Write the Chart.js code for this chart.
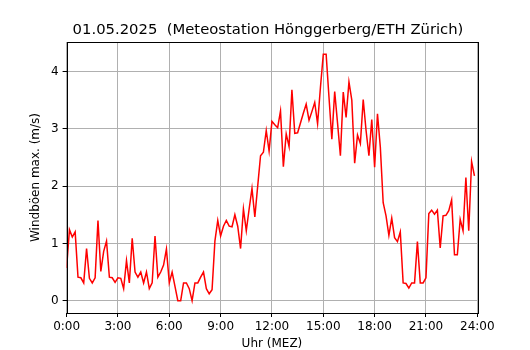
<!DOCTYPE html>
<html>
<head>
<meta charset="utf-8">
<script src="https://cdn.jsdelivr.net/npm/chart.js@4.4.1/dist/chart.umd.min.js"></script>
<style>
  html, body { margin: 0; padding: 0; background: #fff; }
  #wrap { width: 530px; height: 350px; }
</style>
</head>
<body>
<div id="wrap"><canvas id="chartGusts" width="530" height="350"></canvas></div>
<script>
// Windböen max. (m/s), 10-Minuten-Werte ab 0:00
const gusts = [
  0.57, 1.24, 1.11, 1.20, 0.41, 0.40, 0.31, 0.91, 0.39, 0.31, 0.40, 1.40,
  0.51, 0.86, 1.04, 0.41, 0.40, 0.32, 0.40, 0.39, 0.21, 0.70, 0.31, 1.09,
  0.50, 0.41, 0.50, 0.31, 0.50, 0.21, 0.31, 1.13, 0.41, 0.50, 0.62, 0.90,
  0.31, 0.50, 0.25, 0.00, 0.00, 0.31, 0.31, 0.21, 0.00, 0.31, 0.31, 0.41,
  0.50, 0.21, 0.12, 0.19, 1.04, 1.40, 1.13, 1.30, 1.40, 1.30, 1.29, 1.50,
  1.30, 0.91, 1.60, 1.22, 1.60, 1.96, 1.46, 2.00, 2.53, 2.59, 2.97, 2.61,
  3.13, 3.07, 3.02, 3.31, 2.34, 2.91, 2.69, 3.68, 2.92, 2.93, 3.10, 3.27,
  3.43, 3.15, 3.30, 3.46, 3.09, 3.72, 4.30, 4.30, 3.55, 2.82, 3.65, 3.10,
  2.53, 3.64, 3.20, 3.82, 3.50, 2.40, 2.89, 2.74, 3.51, 2.97, 2.53, 3.16,
  2.33, 3.26, 2.68, 1.71, 1.48, 1.14, 1.44, 1.10, 1.03, 1.20, 0.31, 0.30,
  0.22, 0.31, 0.31, 1.03, 0.31, 0.31, 0.40, 1.52, 1.58, 1.51, 1.58, 0.92,
  1.48, 1.49, 1.57, 1.76, 0.80, 0.80, 1.42, 1.22, 2.15, 1.22, 2.43, 2.18
];
const xTicks = [0, 3, 6, 9, 12, 15, 18, 21, 24];
const xTickLabels = ["0:00", "3:00", "6:00", "9:00", "12:00", "15:00", "18:00", "21:00", "24:00"];
const yTicks = [0, 1, 2, 3, 4];

const titleText = "01.05.2025  (Meteostation Hönggerberg/ETH Zürich)";
const FONT = "'DejaVu Sans', sans-serif";

// Rahmen rundherum + Titel (wie matplotlib)
const frame = {
  id: 'frame',
  afterDraw(chart) {
    const { ctx, chartArea: a } = chart;
    ctx.save();
    ctx.strokeStyle = '#000';
    ctx.lineWidth = 1;
    ctx.strokeRect(Math.round(a.left) + 0.5, Math.round(a.top) + 0.5,
      Math.round(a.right - a.left), Math.round(a.bottom - a.top));
    ctx.fillStyle = '#000';
    ctx.font = "14.8px " + FONT;
    ctx.textAlign = 'center';
    ctx.textBaseline = 'alphabetic';
    ctx.fillText(titleText, 268, 34);
    ctx.restore();
  }
};

const ctx = document.getElementById('chartGusts');
new Chart(ctx, {
  type: 'line',
  data: {
    datasets: [{
      data: gusts.map((v, i) => ({ x: i / 6, y: v })),
      borderColor: '#ff0000',
      borderWidth: 1.5,
      pointRadius: 0,
      tension: 0,
      fill: false
    }]
  },
  options: {
    responsive: false,
    animation: false,
    layout: { padding: { left: 0, top: 42, right: 52.7, bottom: 0 } },
    plugins: { legend: { display: false }, tooltip: { enabled: false } },
    scales: {
      x: {
        type: 'linear',
        min: 0,
        max: 24,
        afterBuildTicks: (s) => { s.ticks = xTicks.map(v => ({ value: v })); },
        afterFit: (s) => { s.height = 37; },
        ticks: {
          color: '#000',
          font: { family: FONT, size: 12 },
          padding: 3,
          maxRotation: 0,
          autoSkip: false,
          callback: (v, i) => xTickLabels[i]
        },
        grid: { color: '#b0b0b0', lineWidth: 1, tickColor: '#000', tickLength: 4 },
        border: { display: false },
        title: {
          display: true,
          text: 'Uhr (MEZ)',
          color: '#000',
          font: { family: FONT, size: 12, lineHeight: 1 },
          padding: { top: 0, bottom: 0 }
        }
      },
      y: {
        min: -0.215,
        max: 4.515,
        afterBuildTicks: (s) => { s.ticks = yTicks.map(v => ({ value: v })); },
        afterFit: (s) => { s.width = 66.6; },
        ticks: {
          color: '#000',
          font: { family: FONT, size: 12 },
          padding: 4,
          callback: (v) => String(v)
        },
        grid: { color: '#b0b0b0', lineWidth: 1, tickColor: '#000', tickLength: 4 },
        border: { display: false },
        title: {
          display: true,
          text: 'Windböen max. (m/s)',
          color: '#000',
          font: { family: FONT, size: 12 },
          padding: { top: 29, bottom: 0 }
        }
      }
    }
  },
  plugins: [frame]
});
</script>
</body>
</html>
